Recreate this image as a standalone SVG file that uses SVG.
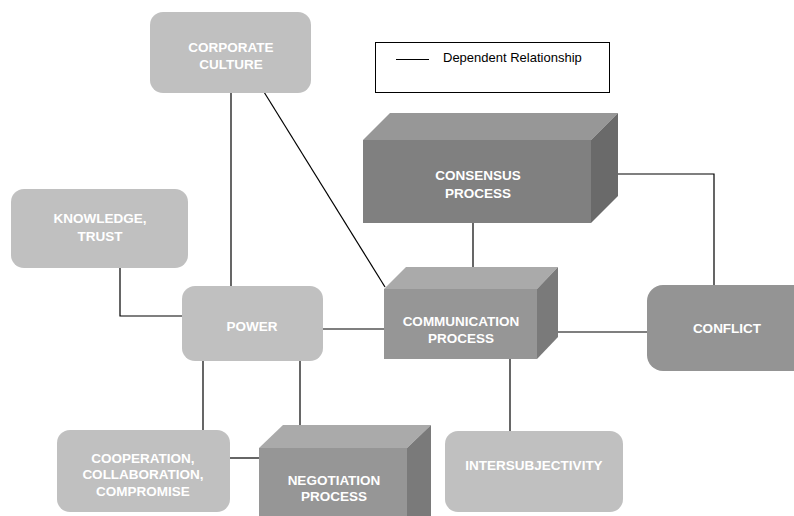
<svg xmlns="http://www.w3.org/2000/svg" width="794" height="516" viewBox="0 0 794 516">
<style>
.lt{fill:#c0c0c0}
.lbl{font-family:"Liberation Sans",Arial,sans-serif;font-weight:bold;font-size:13.5px;fill:#ffffff;text-anchor:middle}
.con{stroke:#000;stroke-width:1.2;fill:none}
.leg{font-family:"Liberation Sans",Arial,sans-serif;font-size:13px;fill:#000}
</style>
<rect width="794" height="516" fill="#ffffff"/>
<g id="connectors">
<line class="con" x1="231" y1="92" x2="231" y2="286"/>
<line class="con" x1="264" y1="92" x2="385" y2="287"/>
<polyline class="con" points="120,268 120,316 182,316"/>
<line class="con" x1="323" y1="329" x2="384" y2="329"/>
<line class="con" x1="203" y1="361" x2="203" y2="430"/>
<line class="con" x1="300" y1="361" x2="300" y2="425"/>
<line class="con" x1="230" y1="458" x2="259" y2="458"/>
<line class="con" x1="473" y1="223" x2="473" y2="267"/>
<polyline class="con" points="617,174 714,174 714,286"/>
<line class="con" x1="556" y1="332" x2="647" y2="332"/>
<line class="con" x1="510" y1="359" x2="510" y2="431"/>
</g>
<g id="corporate-culture">
<rect class="lt" x="150" y="12" width="161" height="81" rx="13"/>
<text class="lbl" x="231" y="52">CORPORATE</text>
<text class="lbl" x="231" y="69">CULTURE</text>
</g>
<g id="knowledge-trust">
<rect class="lt" x="11" y="189" width="177" height="79" rx="13"/>
<text class="lbl" x="100" y="223">KNOWLEDGE,</text>
<text class="lbl" x="100" y="241">TRUST</text>
</g>
<g id="power">
<rect class="lt" x="182" y="286" width="141" height="75" rx="13"/>
<text class="lbl" x="252" y="331">POWER</text>
</g>
<g id="cooperation">
<rect class="lt" x="57" y="430" width="173" height="82" rx="13"/>
<text class="lbl" x="143" y="463">COOPERATION,</text>
<text class="lbl" x="143" y="479">COLLABORATION,</text>
<text class="lbl" x="143" y="496">COMPROMISE</text>
</g>
<g id="intersubjectivity">
<rect class="lt" x="445" y="431" width="178" height="81" rx="13"/>
<text class="lbl" x="534" y="470">INTERSUBJECTIVITY</text>
</g>
<g id="conflict">
<rect x="647" y="285" width="170" height="86" rx="16" fill="#949494"/>
<text class="lbl" x="727" y="333">CONFLICT</text>
</g>
<g id="consensus-process">
<polygon points="363,140 390,113 618,113 591,140" fill="#979797"/>
<polygon points="591,140 618,113 618,196 591,223" fill="#6a6a6a"/>
<rect x="363" y="140" width="228" height="83" fill="#808080"/>
<text class="lbl" x="478" y="180">CONSENSUS</text>
<text class="lbl" x="478" y="198">PROCESS</text>
</g>
<g id="communication-process">
<polygon points="384,289 406,267 558,267 537,289" fill="#aaaaaa"/>
<polygon points="537,289 558,267 558,337 537,359" fill="#7a7a7a"/>
<rect x="384" y="289" width="153" height="70" fill="#969696"/>
<text class="lbl" x="461" y="326">COMMUNICATION</text>
<text class="lbl" x="461" y="343">PROCESS</text>
</g>
<g id="negotiation-process">
<polygon points="259,448 283,425 431,425 407,448" fill="#aaaaaa"/>
<polygon points="407,448 431,425 431,520 407,540" fill="#7a7a7a"/>
<rect x="259" y="448" width="148" height="80" fill="#969696"/>
<text class="lbl" x="334" y="485">NEGOTIATION</text>
<text class="lbl" x="334" y="501">PROCESS</text>
</g>
<g id="legend">
<rect x="375.5" y="42.5" width="234" height="50" fill="#ffffff" stroke="#000" stroke-width="1"/>
<line x1="396" y1="59.5" x2="429" y2="59.5" stroke="#000" stroke-width="1.2"/>
<text class="leg" x="443" y="62">Dependent Relationship</text>
</g>
</svg>
